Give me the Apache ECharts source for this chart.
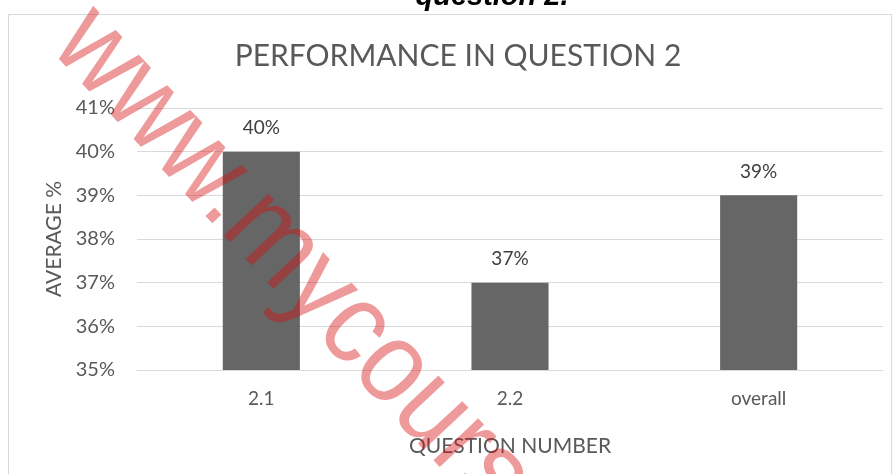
<!DOCTYPE html>
<html>
<head>
    <meta charset="utf-8">
    <title>Performance in question 2</title>
    <script src="https://cdn.jsdelivr.net/npm/echarts@6/dist/echarts.min.js"></script>
    <style>
        html, body { margin: 0; padding: 0; background: #fff; }
        #main { width: 896px; height: 474px; }
    </style>
</head>
<body>
<div id="main"></div>
<script type="text/javascript">
    // data
    var categories = ['2.1', '2.2', 'overall'];
    var averages = [0.40, 0.37, 0.39];
    var yMin = 0.35, yMax = 0.41, yStep = 0.01;

    var grey = '#595959';
    var font = 'Lato';

    function pct(v) {
        return Math.round(v * 100) + '%';
    }

    var myChart = echarts.init(document.getElementById('main'));

    myChart.setOption({
        backgroundColor: '#fff',
        animation: false,
        grid: { left: 137, right: 13, top: 108, bottom: 104 },
        xAxis: {
            type: 'category',
            data: categories,
            name: 'QUESTION NUMBER',
            nameLocation: 'middle',
            nameGap: 66,
            nameTextStyle: { color: grey, fontSize: 21, fontFamily: font },
            axisLine: { lineStyle: { color: '#d9d9d9', width: 1 } },
            axisTick: { show: false },
            axisLabel: { color: grey, fontSize: 19, fontFamily: font, margin: 19 }
        },
        yAxis: {
            type: 'value',
            min: yMin,
            max: yMax,
            interval: yStep,
            name: 'AVERAGE %',
            nameLocation: 'middle',
            nameGap: 71,
            nameRotate: 90,
            nameTextStyle: { color: grey, fontSize: 21, fontFamily: font },
            axisLine: { show: false },
            axisTick: { show: false },
            axisLabel: { color: grey, fontSize: 20, fontFamily: font, margin: 22, formatter: pct },
            splitLine: { lineStyle: { color: '#d9d9d9', width: 1 } }
        },
        series: [{
            type: 'bar',
            data: averages,
            barWidth: '31%',
            itemStyle: { color: '#666666' },
            label: {
                show: true,
                position: 'top',
                distance: 14,
                color: '#404040',
                fontSize: 19,
                fontFamily: font,
                formatter: function (p) { return pct(p.value); }
            }
        }],
        graphic: [
            {   // chart frame
                type: 'rect',
                shape: { x: 8.5, y: 14.5, width: 883, height: 480 },
                style: { fill: null, stroke: '#d9d9d9', lineWidth: 1 },
                z: -1
            },
            {   // caption text of the document, cut at the top
                type: 'text',
                x: 492, y: 11,
                style: {
                    text: 'question 2.',
                    fill: '#000',
                    font: 'italic bold 29px "Liberation Sans", Arial, sans-serif',
                    textAlign: 'center',
                    textVerticalAlign: 'bottom'
                }
            },
            {
                type: 'text',
                x: 458, y: 56,
                style: {
                    text: 'PERFORMANCE IN QUESTION 2',
                    fill: grey,
                    font: '30px Lato',
                    textAlign: 'center',
                    textVerticalAlign: 'middle'
                }
            },
            {   // watermark
                type: 'text',
                x: 72, y: 26,
                rotation: -0.82,
                scaleX: 0.9,
                z: 100,
                style: {
                    text: 'www.mycourse',
                    fill: 'rgba(215, 15, 15, 0.42)',
                    font: '116px "Liberation Sans", Arial, sans-serif',
                    textAlign: 'left',
                    textVerticalAlign: 'middle'
                }
            }
        ]
    });
</script>
</body>
</html>
